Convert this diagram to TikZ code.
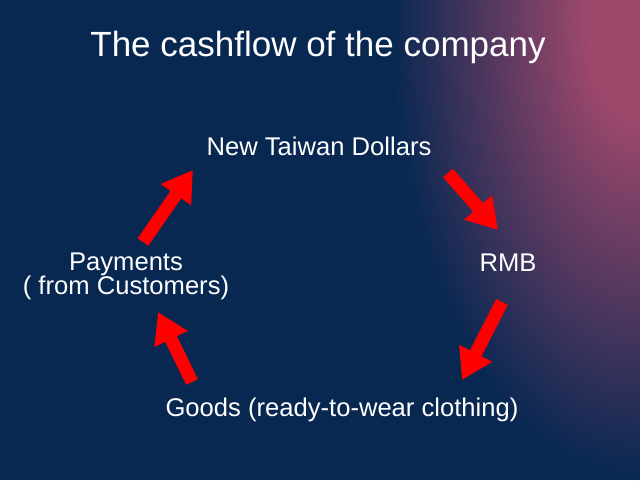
\documentclass[tikz,border=0pt]{standalone}
\usepackage{fontspec}
\setmainfont{Liberation Sans}
\usetikzlibrary{arrows.meta}

\definecolor{slidenavy}{RGB}{8,40,82}
\definecolor{slidepink}{RGB}{160,72,108}
\definecolor{flowred}{RGB}{255,0,0}

% glow in the upper right corner (the path box is the inner 50bp square)
\pgfdeclareradialshading{glow}{\pgfpointorigin}{%
  color(0bp)=(slidepink); color(5bp)=(slidepink);
  color(14bp)=(slidepink!55!slidenavy); color(25bp)=(slidenavy);
  color(50bp)=(slidenavy)}

\begin{document}
\begin{tikzpicture}[x=1pt, y=-1pt,
  flow/.style={line width=13pt, flowred, -{Triangle[length=30pt,width=35pt]}},
  label/.style={text=white, inner sep=0pt, anchor=base, font=\fontsize{25.6}{24}\selectfont},
  title/.style={text=white, inner sep=0pt, anchor=base, font=\fontsize{35}{40}\selectfont}
]

%--- Background ---
\useasboundingbox (0,0) rectangle (640,480);
\fill[slidenavy] (0,0) rectangle (640,480);
\begin{scope}
  \clip (0,0) rectangle (640,480);
  \shade[shading=glow] (640,20) ellipse (250 and 460);
\end{scope}

%--- Title ---
\node[title] (head) at (318,56) {The cashflow of the company};

%--- Stages of the cycle ---
\node[label] (ntd)   at (319,155) {New Taiwan Dollars};
\node[label] (rmb)   at (508,271) {RMB};
\node[label] (goods) at (342,416) {Goods (ready-to-wear clothing)};
% base anchor sits on the last line here
\node[label, align=center] (pay) at (126,294) {Payments\\( from Customers)};

%--- Arrow ends (tail, tip) ---
\coordinate (a1s) at (143,242); \coordinate (a1e) at (193,170);
\coordinate (a2s) at (448,173); \coordinate (a2e) at (498,230);
\coordinate (a3s) at (502,302); \coordinate (a3e) at (462,380);
\coordinate (a4s) at (192,382); \coordinate (a4e) at (158,312);

% pay -> ntd -> rmb -> goods -> pay
\draw[flow] (a1s) -- (a1e);
\draw[flow] (a2s) -- (a2e);
\draw[flow] (a3s) -- (a3e);
\draw[flow] (a4s) -- (a4e);

\end{tikzpicture}
\end{document}
